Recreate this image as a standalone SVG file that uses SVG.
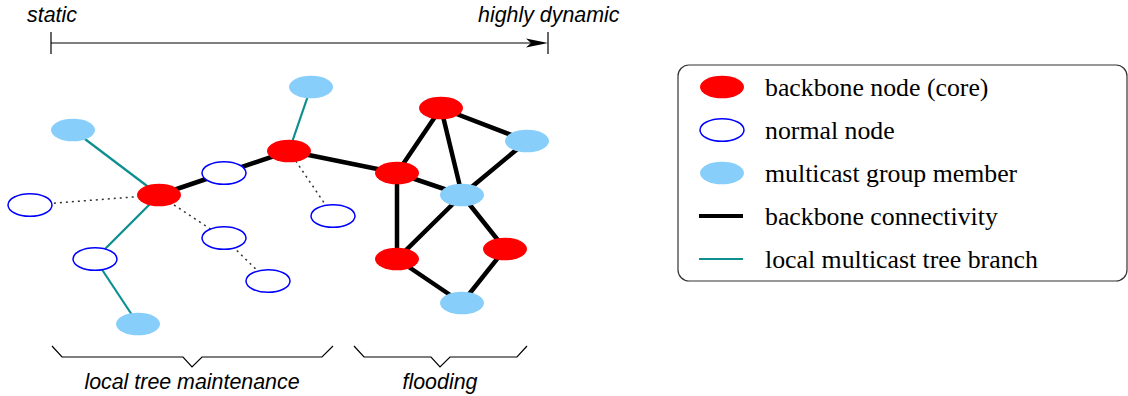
<svg xmlns="http://www.w3.org/2000/svg" width="1128" height="396" viewBox="0 0 1128 396">
  <style>
    .core { fill: #ff0000; }
    .normal { fill: #ffffff; stroke: #0000ff; stroke-width: 1.5; }
    .member { fill: #87cefa; }
    .bb { stroke: #000000; stroke-width: 4.5; stroke-linecap: round; fill: none; }
    .tree { stroke: #0e8f8f; stroke-width: 2.2; fill: none; }
    .dot { stroke: #333333; stroke-width: 1.5; stroke-dasharray: 2 4; fill: none; }
    .thin { stroke: #000000; stroke-width: 1.2; fill: none; }
    .ital { font-family: "Liberation Sans", Arial, sans-serif; font-style: italic; font-size: 21.4px; fill: #000000; }
    .legend { font-family: "Liberation Serif", "Times New Roman", serif; font-size: 25.8px; fill: #000000; }
  </style>
  <defs>
    <ellipse id="shape" cx="0" cy="0" rx="22" ry="11.3"/>
  </defs>
  <rect width="1128" height="396" fill="#ffffff"/>

  <!-- dynamics scale -->
  <g id="scale">
    <text class="ital" x="27" y="22">static</text>
    <text class="ital" x="478" y="22">highly dynamic</text>
    <line class="thin" x1="51" y1="43" x2="532" y2="43"/>
    <line class="thin" x1="51" y1="32" x2="51" y2="54"/>
    <line class="thin" x1="548" y1="32" x2="548" y2="54"/>
    <polygon points="548,43 526,38.5 531,43 526,47.5" fill="#000000"/>
  </g>

  <!-- connectors -->
  <g id="connectors">
    <!-- backbone connectivity -->
    <line class="bb" x1="159" y1="195" x2="224" y2="173"/>
    <line class="bb" x1="224" y1="173" x2="289" y2="151"/>
    <line class="bb" x1="289" y1="151" x2="397" y2="173"/>
    <line class="bb" x1="441" y1="108" x2="397" y2="173"/>
    <line class="bb" x1="441" y1="108" x2="462" y2="195"/>
    <line class="bb" x1="441" y1="108" x2="527" y2="141"/>
    <line class="bb" x1="527" y1="141" x2="462" y2="195"/>
    <line class="bb" x1="397" y1="173" x2="462" y2="195"/>
    <line class="bb" x1="397" y1="173" x2="397" y2="259"/>
    <line class="bb" x1="462" y1="195" x2="397" y2="259"/>
    <line class="bb" x1="462" y1="195" x2="505" y2="249"/>
    <line class="bb" x1="397" y1="259" x2="462" y2="303"/>
    <line class="bb" x1="505" y1="249" x2="462" y2="303"/>
    <!-- local multicast tree branches -->
    <line class="tree" x1="73" y1="130" x2="159" y2="195"/>
    <line class="tree" x1="159" y1="195" x2="95" y2="259"/>
    <line class="tree" x1="95" y1="259" x2="138" y2="324"/>
    <line class="tree" x1="289" y1="151" x2="311" y2="87"/>
    <!-- plain links -->
    <line class="dot" x1="30" y1="205" x2="159" y2="195"/>
    <line class="dot" x1="159" y1="195" x2="224" y2="238"/>
    <line class="dot" x1="224" y1="238" x2="268" y2="281"/>
    <line class="dot" x1="289" y1="151" x2="333" y2="216"/>
  </g>

  <!-- nodes -->
  <g id="n1"><use href="#shape" class="member" x="73" y="130"/></g>
  <g id="n2"><use href="#shape" class="core" x="159" y="195"/></g>
  <g id="n3"><use href="#shape" class="normal" x="30" y="205"/></g>
  <g id="n4"><use href="#shape" class="normal" x="224" y="173"/></g>
  <g id="n5"><use href="#shape" class="core" x="289" y="151"/></g>
  <g id="n6"><use href="#shape" class="member" x="311" y="87"/></g>
  <g id="n7"><use href="#shape" class="normal" x="333" y="216"/></g>
  <g id="n8"><use href="#shape" class="normal" x="224" y="238"/></g>
  <g id="n9"><use href="#shape" class="normal" x="268" y="281"/></g>
  <g id="n10"><use href="#shape" class="normal" x="95" y="259"/></g>
  <g id="n11"><use href="#shape" class="member" x="138" y="324"/></g>
  <g id="n12"><use href="#shape" class="core" x="441" y="108"/></g>
  <g id="n13"><use href="#shape" class="member" x="527" y="141"/></g>
  <g id="n14"><use href="#shape" class="core" x="397" y="173"/></g>
  <g id="n15"><use href="#shape" class="member" x="462" y="195"/></g>
  <g id="n16"><use href="#shape" class="core" x="397" y="259"/></g>
  <g id="n17"><use href="#shape" class="core" x="505" y="249"/></g>
  <g id="n18"><use href="#shape" class="member" x="462" y="303"/></g>

  <!-- region braces -->
  <g id="braces">
    <polyline class="thin" points="52,346 62,357 183,357 192,367 202,357 322,357 333,346"/>
    <polyline class="thin" points="354,346 364,357 431,357 440,367 450,357 517,357 527,346"/>
    <text class="ital" x="192" y="389" text-anchor="middle">local tree maintenance</text>
    <text class="ital" x="440" y="389" text-anchor="middle">flooding</text>
  </g>

  <!-- legend -->
  <g id="legend">
    <rect x="678" y="65" width="449" height="216" rx="11" ry="11" fill="#ffffff" stroke="#333333" stroke-width="1.2"/>
    <use href="#shape" class="core" x="722" y="87"/>
    <use href="#shape" class="normal" x="722" y="130"/>
    <use href="#shape" class="member" x="722" y="173"/>
    <line x1="699" y1="216" x2="743" y2="216" stroke="#000000" stroke-width="4"/>
    <line x1="699" y1="259" x2="743" y2="259" stroke="#0e8f8f" stroke-width="2"/>
    <text class="legend" x="765" y="96">backbone node (core)</text>
    <text class="legend" x="765" y="139">normal node</text>
    <text class="legend" x="765" y="182">multicast group member</text>
    <text class="legend" x="765" y="225">backbone connectivity</text>
    <text class="legend" x="765" y="268">local multicast tree branch</text>
  </g>
</svg>
